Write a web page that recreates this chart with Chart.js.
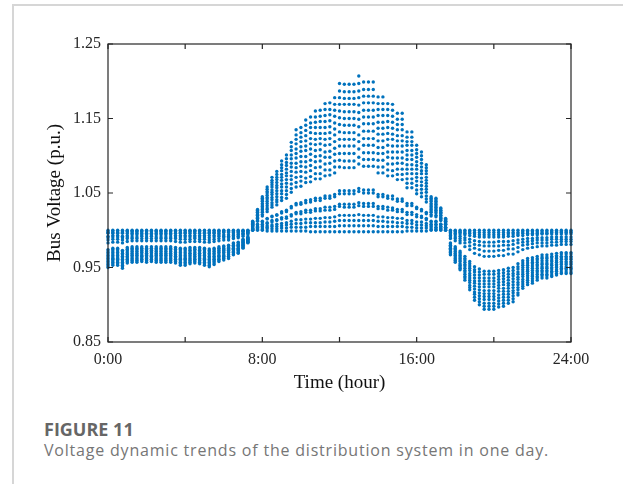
<!DOCTYPE html>
<html>
<head>
<meta charset="utf-8">
<title>Bus voltage</title>
<script src="https://cdn.jsdelivr.net/npm/chart.js@4.4.0/dist/chart.umd.min.js"></script>
<style>
  body { margin: 0; background: #fff; width: 623px; height: 484px; overflow: hidden; position: relative; }
  #frameTop { position: absolute; left: 12px; top: 4px; width: 611px; height: 2px; background: #d6d6d6; }
  #frameLeft { position: absolute; left: 12px; top: 4px; width: 2px; height: 480px; background: #d6d6d6; }
  #chartBox { position: absolute; left: 0; top: 0; width: 623px; height: 400px; }
  .figNo { position: absolute; left: 44px; top: 417px; font: 700 18px "Open Sans", sans-serif; color: #666; }
  .figCap { position: absolute; left: 44px; top: 439px; font: 400 16px "Open Sans", sans-serif; letter-spacing: 0.8px; color: #767676; }
</style>
</head>
<body>
<div id="frameTop"></div>
<div id="frameLeft"></div>
<div id="chartBox"><canvas id="voltage" width="623" height="400"></canvas></div>
<div class="figNo">FIGURE 11</div>
<div class="figCap">Voltage dynamic trends of the distribution system in one day.</div>
<script>
// bus voltages (p.u.), one value every 15 min from 0:00 to 24:00 (97 samples)
const bus1 = [0.950,0.953,0.953,0.949,0.956,0.957,0.957,0.958,0.957,0.958,0.957,0.957,0.957,0.957,0.956,0.953,0.953,0.955,0.956,0.955,0.953,0.951,0.954,0.958,0.960,0.962,0.967,0.969,0.976,0.983,
  1.012,1.028,1.045,1.058,1.071,1.079,1.093,1.101,1.118,1.135,1.138,1.148,1.152,1.160,1.161,1.170,1.171,1.178,1.197,1.196,1.196,1.196,1.207,1.199,1.199,1.199,1.179,1.179,1.170,1.169,1.157,1.157,1.132,1.132,1.114,1.105,1.088,1.045,1.043,1.030,1.016,
  0.967,0.957,0.947,0.933,0.920,0.906,0.900,0.894,0.894,0.894,0.897,0.898,0.902,0.904,0.913,0.922,0.927,0.929,0.933,0.936,0.936,0.938,0.940,0.942,0.942,0.942];
const bus2 = [0.952,0.955,0.955,0.951,0.958,0.959,0.959,0.960,0.959,0.960,0.959,0.959,0.959,0.959,0.958,0.955,0.955,0.957,0.958,0.957,0.955,0.953,0.956,0.960,0.962,0.964,0.968,0.970,0.977,0.984,
  1.011,1.027,1.043,1.055,1.067,1.075,1.088,1.096,1.112,1.128,1.131,1.141,1.144,1.152,1.153,1.162,1.162,1.169,1.187,1.186,1.186,1.186,1.197,1.189,1.189,1.189,1.170,1.170,1.162,1.161,1.149,1.149,1.125,1.125,1.108,1.100,1.084,1.043,1.041,1.029,1.015,
  0.968,0.959,0.949,0.936,0.923,0.910,0.904,0.898,0.898,0.898,0.901,0.902,0.906,0.908,0.916,0.925,0.930,0.932,0.936,0.939,0.939,0.940,0.942,0.944,0.944,0.944];
const bus3 = [0.954,0.957,0.957,0.953,0.960,0.960,0.960,0.961,0.960,0.961,0.960,0.960,0.960,0.960,0.960,0.957,0.957,0.959,0.960,0.959,0.957,0.955,0.958,0.961,0.963,0.965,0.970,0.971,0.978,0.984,
  1.011,1.025,1.041,1.052,1.064,1.071,1.084,1.091,1.107,1.122,1.125,1.134,1.138,1.145,1.146,1.154,1.155,1.161,1.178,1.177,1.177,1.177,1.187,1.180,1.180,1.180,1.162,1.162,1.154,1.153,1.142,1.142,1.119,1.119,1.103,1.095,1.080,1.041,1.039,1.027,1.014,
  0.970,0.960,0.951,0.938,0.926,0.914,0.908,0.902,0.902,0.902,0.905,0.906,0.910,0.912,0.920,0.928,0.933,0.935,0.938,0.941,0.941,0.943,0.945,0.947,0.947,0.947];
const bus4 = [0.956,0.959,0.959,0.955,0.961,0.962,0.962,0.963,0.962,0.963,0.962,0.962,0.962,0.962,0.961,0.959,0.959,0.960,0.961,0.960,0.959,0.957,0.960,0.963,0.965,0.967,0.971,0.973,0.979,0.985,
  1.010,1.024,1.039,1.050,1.061,1.068,1.080,1.087,1.101,1.116,1.119,1.127,1.131,1.138,1.138,1.146,1.147,1.153,1.169,1.169,1.169,1.169,1.178,1.171,1.171,1.171,1.154,1.154,1.146,1.145,1.135,1.135,1.114,1.114,1.098,1.090,1.076,1.039,1.037,1.026,1.014,
  0.971,0.962,0.953,0.941,0.930,0.917,0.912,0.907,0.907,0.907,0.909,0.910,0.914,0.916,0.923,0.931,0.936,0.938,0.941,0.944,0.944,0.945,0.947,0.949,0.949,0.949];
const bus5 = [0.958,0.961,0.961,0.957,0.963,0.964,0.964,0.965,0.964,0.965,0.964,0.964,0.964,0.964,0.963,0.961,0.961,0.962,0.963,0.962,0.961,0.959,0.961,0.965,0.966,0.968,0.972,0.974,0.980,0.986,
  1.010,1.023,1.036,1.047,1.058,1.064,1.075,1.082,1.096,1.109,1.112,1.120,1.123,1.130,1.130,1.138,1.139,1.144,1.160,1.159,1.159,1.159,1.168,1.161,1.161,1.161,1.145,1.145,1.138,1.137,1.127,1.127,1.107,1.107,1.092,1.085,1.071,1.036,1.035,1.024,1.013,
  0.972,0.964,0.955,0.944,0.933,0.921,0.916,0.911,0.911,0.911,0.913,0.914,0.918,0.919,0.927,0.934,0.939,0.940,0.944,0.946,0.946,0.948,0.950,0.951,0.951,0.951];
const bus6 = [0.960,0.962,0.962,0.959,0.965,0.966,0.966,0.966,0.966,0.966,0.966,0.966,0.966,0.966,0.965,0.962,0.962,0.964,0.965,0.964,0.962,0.961,0.963,0.966,0.968,0.970,0.974,0.975,0.981,0.986,
  1.009,1.021,1.034,1.044,1.054,1.060,1.071,1.077,1.090,1.103,1.106,1.113,1.116,1.122,1.123,1.130,1.131,1.136,1.151,1.150,1.150,1.150,1.158,1.152,1.152,1.152,1.137,1.137,1.130,1.129,1.120,1.120,1.101,1.101,1.087,1.080,1.067,1.034,1.033,1.023,1.012,
  0.974,0.966,0.958,0.946,0.936,0.925,0.920,0.915,0.915,0.915,0.918,0.918,0.922,0.923,0.930,0.938,0.942,0.943,0.946,0.949,0.949,0.950,0.952,0.954,0.954,0.954];
const bus7 = [0.962,0.964,0.964,0.961,0.967,0.967,0.967,0.968,0.967,0.968,0.967,0.967,0.967,0.967,0.967,0.964,0.964,0.966,0.967,0.966,0.964,0.963,0.965,0.968,0.970,0.971,0.975,0.976,0.982,0.987,
  1.009,1.020,1.032,1.042,1.051,1.057,1.067,1.073,1.085,1.097,1.099,1.107,1.109,1.115,1.116,1.122,1.123,1.128,1.142,1.141,1.141,1.141,1.149,1.143,1.143,1.143,1.129,1.129,1.122,1.122,1.113,1.113,1.095,1.095,1.082,1.076,1.063,1.032,1.031,1.022,1.012,
  0.975,0.967,0.960,0.949,0.939,0.929,0.924,0.919,0.919,0.919,0.922,0.922,0.926,0.927,0.934,0.941,0.945,0.946,0.949,0.951,0.951,0.953,0.954,0.956,0.956,0.956];
const bus8 = [0.964,0.966,0.966,0.963,0.968,0.969,0.969,0.970,0.969,0.970,0.969,0.969,0.969,0.969,0.968,0.966,0.966,0.968,0.968,0.968,0.966,0.965,0.967,0.970,0.971,0.973,0.976,0.978,0.983,0.988,
  1.008,1.019,1.030,1.039,1.048,1.053,1.062,1.068,1.079,1.090,1.092,1.099,1.102,1.107,1.108,1.114,1.115,1.119,1.132,1.131,1.131,1.131,1.139,1.133,1.133,1.133,1.120,1.120,1.114,1.113,1.105,1.105,1.088,1.088,1.076,1.070,1.059,1.030,1.029,1.020,1.011,
  0.976,0.969,0.962,0.952,0.942,0.932,0.928,0.924,0.924,0.924,0.926,0.927,0.929,0.931,0.937,0.944,0.947,0.949,0.952,0.954,0.954,0.955,0.957,0.958,0.958,0.958];
const bus9 = [0.966,0.968,0.968,0.965,0.970,0.971,0.971,0.971,0.971,0.971,0.971,0.971,0.971,0.971,0.970,0.968,0.968,0.969,0.970,0.969,0.968,0.967,0.969,0.971,0.973,0.974,0.978,0.979,0.984,0.988,
  1.007,1.017,1.028,1.036,1.044,1.049,1.058,1.063,1.073,1.084,1.086,1.092,1.094,1.099,1.100,1.105,1.106,1.110,1.122,1.122,1.122,1.122,1.128,1.123,1.123,1.123,1.111,1.111,1.105,1.105,1.097,1.097,1.082,1.082,1.071,1.065,1.055,1.028,1.027,1.019,1.010,
  0.978,0.971,0.964,0.954,0.946,0.936,0.932,0.928,0.928,0.928,0.930,0.931,0.933,0.935,0.941,0.947,0.950,0.952,0.954,0.956,0.956,0.958,0.959,0.961,0.961,0.961];
const bus10 = [0.968,0.970,0.970,0.967,0.972,0.972,0.972,0.973,0.972,0.973,0.972,0.972,0.972,0.972,0.972,0.970,0.970,0.971,0.972,0.971,0.970,0.969,0.971,0.973,0.974,0.976,0.979,0.980,0.985,0.989,
  1.007,1.016,1.026,1.033,1.041,1.045,1.053,1.058,1.068,1.078,1.079,1.085,1.087,1.092,1.093,1.098,1.098,1.102,1.113,1.113,1.113,1.113,1.119,1.114,1.114,1.114,1.103,1.103,1.098,1.097,1.090,1.090,1.076,1.076,1.066,1.060,1.051,1.026,1.025,1.017,1.009,
  0.979,0.972,0.966,0.957,0.949,0.940,0.936,0.932,0.932,0.932,0.934,0.935,0.937,0.939,0.944,0.950,0.953,0.955,0.957,0.959,0.959,0.960,0.962,0.963,0.963,0.963];
const bus11 = [0.970,0.972,0.972,0.969,0.974,0.974,0.974,0.975,0.974,0.975,0.974,0.974,0.974,0.974,0.974,0.972,0.972,0.973,0.974,0.973,0.972,0.971,0.972,0.975,0.976,0.977,0.980,0.981,0.986,0.990,
  1.006,1.015,1.024,1.030,1.037,1.041,1.049,1.053,1.062,1.071,1.072,1.078,1.080,1.084,1.085,1.089,1.090,1.093,1.103,1.103,1.103,1.103,1.109,1.104,1.104,1.104,1.094,1.094,1.089,1.089,1.082,1.082,1.069,1.069,1.060,1.055,1.046,1.024,1.023,1.016,1.008,
  0.980,0.974,0.968,0.960,0.952,0.944,0.940,0.936,0.936,0.936,0.938,0.939,0.941,0.942,0.948,0.953,0.956,0.957,0.960,0.962,0.962,0.963,0.964,0.965,0.965,0.965];
const bus12 = [0.972,0.974,0.974,0.971,0.975,0.976,0.976,0.976,0.976,0.976,0.976,0.976,0.976,0.976,0.975,0.974,0.974,0.975,0.975,0.975,0.974,0.973,0.974,0.976,0.978,0.979,0.982,0.983,0.987,0.990,
  1.006,1.013,1.021,1.028,1.034,1.038,1.044,1.048,1.056,1.064,1.066,1.070,1.072,1.076,1.076,1.081,1.081,1.085,1.094,1.093,1.093,1.093,1.098,1.095,1.095,1.095,1.085,1.085,1.081,1.080,1.075,1.075,1.063,1.063,1.054,1.050,1.042,1.021,1.020,1.014,1.008,
  0.982,0.976,0.970,0.962,0.955,0.947,0.944,0.941,0.941,0.941,0.942,0.943,0.945,0.946,0.951,0.956,0.959,0.960,0.962,0.964,0.964,0.965,0.966,0.968,0.968,0.968];
const bus13 = [0.974,0.976,0.976,0.973,0.977,0.978,0.978,0.978,0.978,0.978,0.978,0.978,0.978,0.978,0.977,0.976,0.976,0.977,0.977,0.977,0.976,0.975,0.976,0.978,0.979,0.980,0.983,0.984,0.988,0.991,
  1.005,1.012,1.019,1.025,1.031,1.034,1.040,1.043,1.051,1.058,1.059,1.064,1.065,1.069,1.069,1.073,1.074,1.077,1.085,1.084,1.084,1.084,1.089,1.086,1.086,1.086,1.077,1.077,1.073,1.073,1.068,1.068,1.057,1.057,1.049,1.045,1.038,1.019,1.018,1.013,1.007,
  0.983,0.978,0.972,0.965,0.958,0.951,0.948,0.945,0.945,0.945,0.946,0.947,0.949,0.950,0.955,0.959,0.962,0.963,0.965,0.967,0.967,0.968,0.969,0.970,0.970,0.970];
const bus14 = [0.983,0.984,0.984,0.983,0.985,0.986,0.986,0.986,0.986,0.986,0.986,0.986,0.986,0.986,0.985,0.984,0.984,0.985,0.985,0.985,0.984,0.984,0.985,0.986,0.987,0.987,0.989,0.990,0.992,0.994,
  1.003,1.008,1.012,1.016,1.019,1.021,1.025,1.027,1.032,1.036,1.037,1.040,1.041,1.043,1.043,1.046,1.046,1.048,1.053,1.053,1.053,1.053,1.056,1.054,1.054,1.054,1.048,1.048,1.046,1.046,1.042,1.042,1.036,1.036,1.031,1.028,1.024,1.012,1.012,1.008,1.004,
  0.989,0.986,0.983,0.978,0.974,0.969,0.967,0.965,0.965,0.965,0.966,0.966,0.968,0.968,0.971,0.974,0.976,0.977,0.978,0.979,0.979,0.980,0.980,0.981,0.981,0.981];
const bus15 = [0.987,0.988,0.988,0.987,0.989,0.989,0.989,0.989,0.989,0.989,0.989,0.989,0.989,0.989,0.989,0.988,0.988,0.988,0.989,0.988,0.988,0.987,0.988,0.989,0.990,0.990,0.991,0.992,0.994,0.996,
  1.003,1.007,1.011,1.015,1.018,1.020,1.023,1.025,1.030,1.034,1.035,1.037,1.038,1.040,1.040,1.043,1.043,1.045,1.049,1.049,1.049,1.049,1.052,1.050,1.050,1.050,1.045,1.045,1.043,1.042,1.039,1.039,1.033,1.033,1.029,1.026,1.022,1.011,1.011,1.008,1.004,
  0.991,0.989,0.986,0.983,0.979,0.976,0.974,0.972,0.972,0.972,0.973,0.973,0.975,0.975,0.977,0.980,0.981,0.982,0.983,0.983,0.983,0.984,0.984,0.985,0.985,0.985];
const bus16 = [0.990,0.991,0.991,0.990,0.991,0.991,0.991,0.992,0.991,0.992,0.991,0.991,0.991,0.991,0.991,0.991,0.991,0.991,0.991,0.991,0.991,0.990,0.991,0.992,0.992,0.992,0.993,0.994,0.995,0.997,
  1.002,1.005,1.008,1.010,1.013,1.014,1.017,1.018,1.021,1.024,1.025,1.027,1.027,1.029,1.029,1.031,1.031,1.032,1.035,1.035,1.035,1.035,1.037,1.036,1.036,1.036,1.032,1.032,1.031,1.030,1.028,1.028,1.024,1.024,1.021,1.019,1.016,1.008,1.008,1.005,1.003,
  0.993,0.991,0.989,0.987,0.984,0.981,0.980,0.979,0.979,0.979,0.979,0.980,0.980,0.981,0.983,0.984,0.985,0.986,0.987,0.987,0.987,0.988,0.988,0.988,0.988,0.988];
const bus17 = [0.992,0.993,0.993,0.992,0.993,0.994,0.994,0.994,0.994,0.994,0.994,0.994,0.994,0.994,0.993,0.993,0.993,0.993,0.993,0.993,0.993,0.993,0.993,0.994,0.994,0.994,0.995,0.995,0.996,0.997,
  1.002,1.004,1.007,1.009,1.011,1.013,1.015,1.016,1.019,1.022,1.022,1.024,1.024,1.026,1.026,1.027,1.027,1.028,1.032,1.031,1.031,1.031,1.033,1.032,1.032,1.032,1.029,1.029,1.027,1.027,1.025,1.025,1.021,1.021,1.018,1.017,1.014,1.007,1.007,1.005,1.003,
  0.995,0.994,0.992,0.990,0.988,0.986,0.985,0.984,0.984,0.984,0.985,0.985,0.985,0.986,0.987,0.988,0.989,0.989,0.990,0.990,0.990,0.991,0.991,0.991,0.991,0.991];
const bus18 = [0.996,0.996,0.996,0.996,0.996,0.996,0.996,0.996,0.996,0.996,0.996,0.996,0.996,0.996,0.996,0.996,0.996,0.996,0.996,0.996,0.996,0.996,0.996,0.996,0.997,0.997,0.997,0.997,0.998,0.999,
  1.001,1.003,1.005,1.006,1.007,1.008,1.009,1.010,1.012,1.014,1.014,1.015,1.015,1.016,1.016,1.017,1.017,1.018,1.020,1.020,1.020,1.020,1.021,1.020,1.020,1.020,1.018,1.018,1.017,1.017,1.016,1.016,1.013,1.013,1.011,1.011,1.009,1.005,1.004,1.003,1.002,
  0.997,0.996,0.995,0.994,0.993,0.992,0.991,0.991,0.991,0.991,0.991,0.991,0.992,0.992,0.993,0.993,0.994,0.994,0.994,0.995,0.995,0.995,0.995,0.995,0.995,0.995];
const bus19 = [0.997,0.997,0.997,0.997,0.998,0.998,0.998,0.998,0.998,0.998,0.998,0.998,0.998,0.998,0.998,0.997,0.997,0.998,0.998,0.998,0.997,0.997,0.997,0.998,0.998,0.998,0.998,0.998,0.999,0.999,
  1.001,1.002,1.003,1.004,1.005,1.005,1.006,1.007,1.008,1.009,1.009,1.010,1.010,1.010,1.010,1.011,1.011,1.012,1.013,1.013,1.013,1.013,1.013,1.013,1.013,1.013,1.012,1.012,1.011,1.011,1.010,1.010,1.009,1.009,1.007,1.007,1.006,1.003,1.003,1.002,1.001,
  0.998,0.998,0.997,0.996,0.996,0.995,0.994,0.994,0.994,0.994,0.994,0.994,0.995,0.995,0.995,0.996,0.996,0.996,0.996,0.996,0.996,0.997,0.997,0.997,0.997,0.997];
const bus20 = [0.998,0.999,0.999,0.998,0.999,0.999,0.999,0.999,0.999,0.999,0.999,0.999,0.999,0.999,0.999,0.999,0.999,0.999,0.999,0.999,0.999,0.999,0.999,0.999,0.999,0.999,0.999,0.999,0.999,0.999,
  1.000,1.001,1.001,1.002,1.002,1.002,1.003,1.003,1.004,1.004,1.004,1.004,1.005,1.005,1.005,1.005,1.005,1.005,1.006,1.006,1.006,1.006,1.006,1.006,1.006,1.006,1.005,1.005,1.005,1.005,1.005,1.005,1.004,1.004,1.003,1.003,1.003,1.001,1.001,1.001,1.000,
  0.999,0.999,0.998,0.998,0.998,0.997,0.997,0.997,0.997,0.997,0.997,0.997,0.997,0.997,0.997,0.998,0.998,0.998,0.998,0.998,0.998,0.998,0.998,0.998,0.998,0.998];
const bus21 = [1.000,1.000,1.000,1.000,1.000,1.000,1.000,1.000,1.000,1.000,1.000,1.000,1.000,1.000,1.000,1.000,1.000,1.000,1.000,1.000,1.000,1.000,1.000,1.000,1.000,1.000,1.000,1.000,1.000,1.000,
  1.000,1.000,1.000,0.999,0.999,0.999,0.999,0.999,0.999,0.999,0.999,0.999,0.998,0.998,0.998,0.998,0.998,0.998,0.998,0.998,0.998,0.998,0.998,0.998,0.998,0.998,0.998,0.998,0.998,0.998,0.998,0.998,0.999,0.999,0.999,0.999,0.999,1.000,1.000,1.000,1.000,
  1.000,1.000,1.000,1.000,1.000,1.000,1.000,1.000,1.000,1.000,1.000,1.000,1.000,1.000,1.000,1.000,1.000,1.000,1.000,1.000,1.000,1.000,1.000,1.000,1.000,1.000];

const busSeries = [bus1, bus2, bus3, bus4, bus5, bus6, bus7, bus8, bus9, bus10, bus11,
  bus12, bus13, bus14, bus15, bus16, bus17, bus18, bus19, bus20, bus21];

// time axis (hours) and tick labels
const sampleHours = bus1.map((v, i) => i * 0.25);
const xTickHours = [0, 4, 8, 12, 16, 20, 24];
const xLabelHours = [0, 8, 16, 24];
const xLabelText = ['0:00', '8:00', '16:00', '24:00'];
const yTickValues = [0.85, 0.95, 1.05, 1.15, 1.25];

busSeries.forEach((s, k) => {
  if (s.length !== sampleHours.length) throw new Error('bus' + (k + 1) + ' has ' + s.length + ' values');
});

const serif = '"Liberation Serif", "Times New Roman", serif';
const axisColor = '#262626';

// MATLAB style box with inward ticks on all four sides
const boxTicks = {
  id: 'boxTicks',
  afterDatasetsDraw(chart) {
    const { ctx, chartArea: a, scales: { x, y } } = chart;
    ctx.save();
    ctx.strokeStyle = axisColor;
    ctx.lineWidth = 1.2;
    ctx.strokeRect(a.left, a.top, a.right - a.left, a.bottom - a.top);
    ctx.beginPath();
    xTickHours.forEach(h => {
      const px = x.getPixelForValue(h);
      ctx.moveTo(px, a.bottom); ctx.lineTo(px, a.bottom - 5);
      ctx.moveTo(px, a.top); ctx.lineTo(px, a.top + 5);
    });
    yTickValues.forEach(v => {
      const py = y.getPixelForValue(v);
      ctx.moveTo(a.left, py); ctx.lineTo(a.left + 5, py);
      ctx.moveTo(a.right, py); ctx.lineTo(a.right - 5, py);
    });
    ctx.stroke();
    ctx.restore();
  }
};

const ctx = document.getElementById('voltage').getContext('2d');
const voltageChart = new Chart(ctx, {
  type: 'scatter',
  data: {
    datasets: busSeries.map((s, k) => ({
      label: 'Bus ' + (k + 1),
      data: s.map((v, i) => ({ x: sampleHours[i], y: v })),
      backgroundColor: '#0072BD',
      pointRadius: 1.7,
      pointBorderWidth: 0,
      clip: false
    }))
  },
  options: {
    responsive: false,
    animation: false,
    events: [],
    layout: { padding: { left: 44, right: 52, top: 44, bottom: 6 } },
    plugins: { legend: { display: false }, tooltip: { enabled: false } },
    scales: {
      x: {
        type: 'linear', min: 0, max: 24,
        grid: { display: false, drawTicks: false },
        border: { display: false },
        afterBuildTicks: s => { s.ticks = xTickHours.map(v => ({ value: v })); },
        afterFit: s => { s.height = 52; },
        ticks: {
          autoSkip: false, maxRotation: 0, padding: 8, color: axisColor,
          font: { family: serif, size: 16 },
          callback: v => { const i = xLabelHours.indexOf(v); return i >= 0 ? xLabelText[i] : ''; }
        },
        title: { display: true, text: 'Time (hour)', color: '#111', padding: 0, font: { family: serif, size: 19 } }
      },
      y: {
        min: 0.85, max: 1.25,
        grid: { display: false, drawTicks: false },
        border: { display: false },
        afterBuildTicks: s => { s.ticks = yTickValues.map(v => ({ value: v })); },
        afterFit: s => { s.width = 64; },
        ticks: {
          padding: 7, color: axisColor,
          font: { family: serif, size: 16 },
          callback: v => v.toFixed(2)
        },
        title: { display: true, text: 'Bus Voltage (p.u.)', color: '#111', padding: 0, font: { family: serif, size: 19 } }
      }
    }
  },
  plugins: [boxTicks]
});
</script>
</body>
</html>
